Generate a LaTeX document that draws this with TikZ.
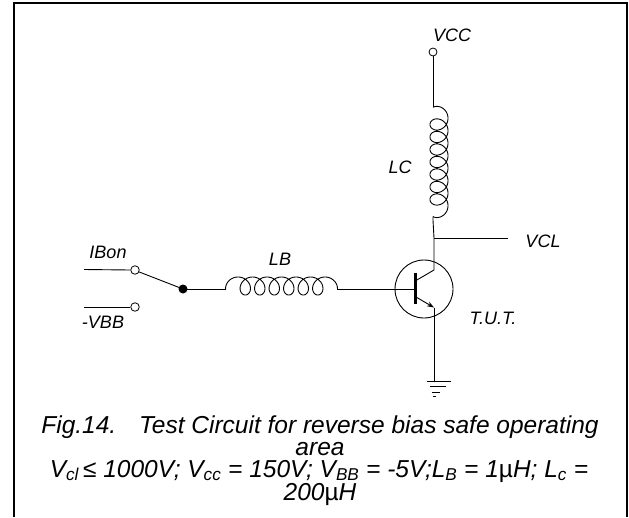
\documentclass[tikz,border=0pt]{standalone}
\usepackage{fontspec}
\setmainfont{Liberation Sans}
\usetikzlibrary{arrows.meta}
\begin{document}
\begin{tikzpicture}[x=1pt,y=-1pt,line width=0.9pt,
  lbl/.style={font=\fontsize{18}{20}\selectfont\itshape, inner sep=0pt},
  captxt/.style={font=\fontsize{24.5}{22}\selectfont\itshape, inner sep=0pt, anchor=base},
  termc/.style={circle, draw, fill=white, minimum size=8.5pt, inner sep=0pt, line width=0.8pt},
  frm/.style={line width=2pt}]
\useasboundingbox (0,0) rectangle (629,517);
% frame
\draw[frm] (14,517) -- (14,3) -- (626.5,3) -- (626.5,517);

% ---- left switch ----
\coordinate (IBw) at (84,269.5);
\coordinate (VBw) at (84,307);
\node[termc] (IBt) at (135,270) {};
\node[termc] (VBt) at (135,307) {};
\node[circle, fill=black, minimum size=9pt, inner sep=0pt] (dot) at (183,289) {};
\draw (IBw) -- (IBt.west);
\draw (VBw) -- (VBt.west);
\draw (IBt.-25) -- (dot.center);
\node[lbl] (IBl) at (108,252) {IBon};
\node[lbl] (VBl) at (103,322) {-VBB};

% ---- LB coil ----
\coordinate (LBa) at (225.6,289);
\coordinate (LBb) at (337.45,289);
\draw (dot.center) -- (LBa);
\draw[shift={(LBa)}] plot[domain=-1.9106:39.6097, samples=500, variable=\t]
  ({14.5*(\t+1.9106)/(2*pi) + 8.5*(sin(\t r)+0.9428)}, {-(9*cos(\t r)+3)});
\node[lbl] (LBl) at (280,259) {LB};

% ---- transistor ----
\node[circle, draw, minimum size=58pt, inner sep=0pt] (Q) at (424,289) {};
\coordinate (Bt) at (415,272.5);
\coordinate (Bb) at (415,303.5);
\coordinate (Bm) at (415,289);
\draw[line width=3pt] (Bt) -- (Bb);
\draw (LBb) -- (Bm);
\coordinate (Cin) at (416,280.5);
\coordinate (Cout) at (434,270);
\coordinate (Ein) at (416,297);
\coordinate (Eout) at (434,307.5);
\draw (Cin) -- (Cout);
\draw[-{Stealth[length=7pt,width=5pt]}] (Ein) -- (Eout);

% ---- collector side ----
\node[termc, minimum size=8pt] (VCCt) at (433,52) {};
\node[lbl] (VCCl) at (452,35) {VCC};
\coordinate (LCa) at (433,107.3);
\coordinate (LCb) at (433,216.6);
\draw (VCCt.south) -- (LCa);
\draw[shift={(LCa)}] plot[domain=-2.3005:46.2828, samples=500, variable=\t]
  ({9*cos(\t r)+6}, {12.5*(\t+2.3005)/(2*pi) + 8.5*(sin(\t r)+0.7454)});
\node[lbl] (LCl) at (400,167) {LC};
\coordinate (J) at (434,238);
\coordinate (VCLe) at (508,238);
\draw (LCb) -- (433,220) -- (J) -- (Cout);
\draw (J) -- (VCLe);
\node[lbl] (VCLl) at (543,241) {VCL};
\node[lbl] (TUT) at (493,318) {T.U.T.};

% ---- ground ----
\coordinate (G) at (434,381);
\draw (Eout) -- (G);
\draw (427,381) -- (451,381);
\draw (429.5,386.7) -- (446,386.7);
\draw (431.7,392.3) -- (440,392.3);
\draw (433.3,396.7) -- (435.5,396.7);

% ---- caption ----
\node[captxt] (c1) at (320,433) {Fig.14.\hspace{23pt}Test Circuit for reverse bias safe operating};
\node[captxt] (c2) at (320,455) {area};
\node[captxt] (c3) at (319,477) {V\textsubscript{cl}\,≤ 1000V; V\textsubscript{cc} = 150V; V\textsubscript{BB} = -5V;L\textsubscript{B} = 1{\upshape µ}H; L\textsubscript{c} =};
\node[captxt] (c4) at (320,500) {200{\upshape µ}H};
\end{tikzpicture}
\end{document}
